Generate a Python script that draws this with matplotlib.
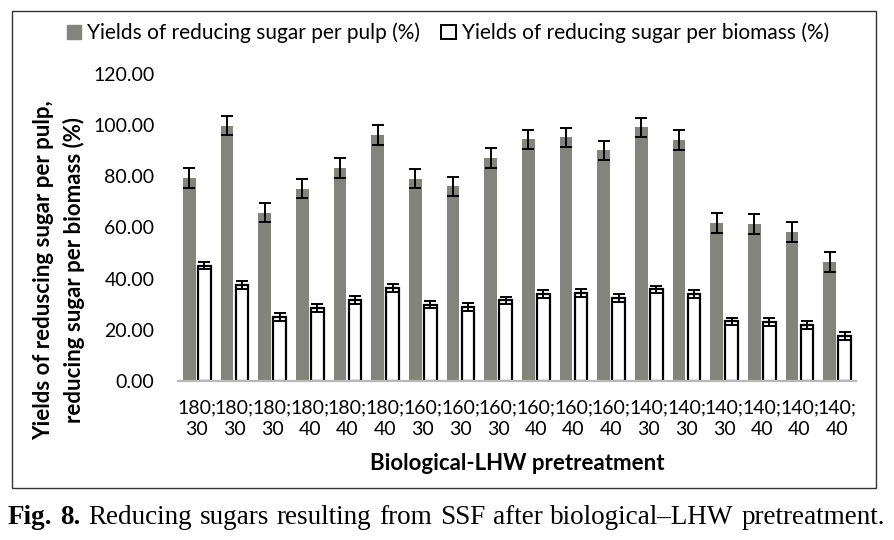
import matplotlib

matplotlib.use("Agg")

import matplotlib.pyplot as plt
import numpy as np
from matplotlib.patches import Patch, Rectangle

# pretreatment conditions (temperature; time)
temps = [180, 180, 180, 180, 180, 180, 160, 160, 160, 160, 160, 160,
         140, 140, 140, 140, 140, 140]
times = [30, 30, 30, 40, 40, 40, 30, 30, 30, 40, 40, 40,
         30, 30, 30, 40, 40, 40]

pulp = [79.5, 99.7, 65.8, 75.2, 83.3, 96.1, 79.1, 76.1, 87.2,
        94.4, 95.2, 90.1, 99.1, 94.2, 61.8, 61.3, 58.2, 46.5]
pulp_err = [3.9, 3.7, 3.8, 3.8, 3.8, 3.8, 3.8, 3.8, 3.8,
            3.8, 3.8, 3.8, 3.8, 3.8, 3.8, 3.8, 3.8, 3.8]
biomass = [45.1, 37.6, 25.1, 28.6, 31.6, 36.3, 29.9, 28.8, 31.5,
           34.0, 34.4, 32.5, 35.8, 34.0, 23.3, 23.0, 22.0, 17.5]
biomass_err = [1.5] * 18

labels = [f"{t};\n{m}" for t, m in zip(temps, times)]
yticks = [0, 20, 40, 60, 80, 100, 120]
caption_words = ["Fig.", "8.", "Reducing", "sugars", "resulting", "from", "SSF",
                 "after", "biological\u2013LHW", "pretreatment."]

GREY = "#84847f"
FONT = "Lato"
SERIF = "Liberation Serif"

fig = plt.figure(figsize=(8.95, 5.4), dpi=100)
ax = fig.add_axes([178 / 895, 1 - 381 / 540, (856 - 178) / 895, (381 - 74) / 540])

x = np.arange(len(labels))
w = 0.33
err_kw = dict(ecolor="black", elinewidth=1.4, capsize=4, capthick=1.4)
ax.bar(x - 0.2, pulp, w, color=GREY, yerr=pulp_err, error_kw=err_kw, zorder=2)
ax.bar(x + 0.2, biomass, w, color="white", edgecolor="black", linewidth=1.6,
       yerr=biomass_err, error_kw=err_kw, zorder=2)

ax.set_xlim(-0.5, len(labels) - 0.5)
ax.set_ylim(0, 120)
ax.set_yticks(yticks, [f"{v:.2f}" for v in yticks], fontfamily=FONT, fontsize=14)
ax.set_xticks(x, labels, fontfamily=FONT, fontsize=14, linespacing=1.35)
ax.tick_params(axis="y", length=0, pad=17)
ax.tick_params(axis="x", length=0, pad=13)
for side in ("top", "right", "left"):
    ax.spines[side].set_visible(False)
ax.spines["bottom"].set_color("#b8b8b8")
ax.spines["bottom"].set_linewidth(1.6)

fig.text(517 / 895, 1 - 463 / 540, "Biological-LHW pretreatment", ha="center",
         va="center", fontfamily=FONT, fontweight="bold", fontsize=16)
fig.text(59 / 895, 1 - 270 / 540,
         "Yields of reduscing sugar per pulp,\nreducing sugar per biomass (%)",
         rotation=90, ha="center", va="center", fontfamily=FONT,
         fontweight="bold", fontsize=16, linespacing=1.5)

handles = [Patch(facecolor=GREY, edgecolor=GREY),
           Patch(facecolor="white", edgecolor="black", linewidth=1.4)]
fig.legend(handles, ["Yields of reducing sugar per pulp (%)",
                     "Yields of reducing sugar per biomass (%)"],
           loc="center", bbox_to_anchor=(448 / 895, 1 - 33 / 540), ncol=2,
           frameon=False, prop=dict(family=FONT, size=15), handlelength=0.7,
           handleheight=0.7, handletextpad=0.3, columnspacing=1.0)

fig.patches.append(Rectangle((12 / 895, 1 - 488 / 540), 864 / 895, 477 / 540,
                             transform=fig.transFigure, fill=False,
                             edgecolor="#333333", linewidth=1.0))

# justified caption line: words spread between left and right edge
renderer = fig.canvas.get_renderer()
texts = []
for i, word in enumerate(caption_words):
    t = fig.text(0, 1 - 517 / 540, word, ha="left", va="center",
                 fontfamily=SERIF, fontsize=19.5,
                 fontweight="bold" if i < 2 else "normal")
    texts.append(t)
widths = [t.get_window_extent(renderer).width for t in texts]
left, right = 8, 885
gap = (right - left - sum(widths)) / (len(texts) - 1)
pos = left
for t, wd in zip(texts, widths):
    t.set_x(pos / 895)
    pos += wd + gap

fig.savefig("out.png", dpi=100)
